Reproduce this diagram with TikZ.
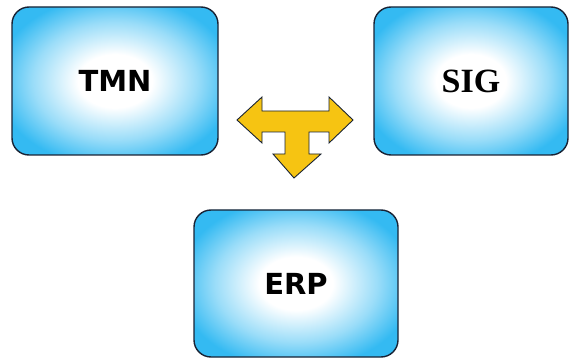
\documentclass[tikz,border=0pt]{standalone}
\usepackage{fontspec}
\setmainfont{DejaVu Sans}
\newfontfamily\sigfont{Liberation Serif}
\usetikzlibrary{shadings}

\definecolor{boxblue}{RGB}{52,186,242}
\definecolor{boxedge}{RGB}{24,34,52}
\definecolor{arrowyellow}{RGB}{246,196,18}

\pgfdeclareradialshading{glow}{\pgfpoint{0bp}{0bp}}{%
  color(0bp)=(white); color(9bp)=(white); color(20bp)=(boxblue!50); color(29bp)=(boxblue); color(100bp)=(boxblue)}

\tikzset{
    sysbox/.style={draw=boxedge, line width=1.4pt, rounded corners=17pt,
        shading=glow, inner sep=0pt, font=\bfseries\fontsize{29}{30}\selectfont}
}

\begin{document}
\begin{tikzpicture}[x=1pt, y=-1pt]

    \useasboundingbox (0,0) rectangle (570,358);

    \node[sysbox, minimum width=206pt, minimum height=148pt] (tmn) at (115,81) {TMN};
    \node[sysbox, minimum width=194pt, minimum height=148pt, font=\sigfont\bfseries\fontsize{34}{35}\selectfont] (sig) at (471,81) {SIG};
    \node[sysbox, minimum width=204pt, minimum height=147pt] (erp) at (296,283.5) {ERP};

    \draw[fill=arrowyellow, draw=boxedge, line width=0.9pt, line join=miter]
        (237,120) -- (262,97) -- (262,111) -- (329,111) -- (329,97) -- (353,120)
        -- (329,143) -- (329,132) -- (309,132) -- (309,154) -- (321,154)
        -- (294,178) -- (273,154) -- (285,154) -- (285,132) -- (262,132)
        -- (262,143) -- cycle;

\end{tikzpicture}
\end{document}
